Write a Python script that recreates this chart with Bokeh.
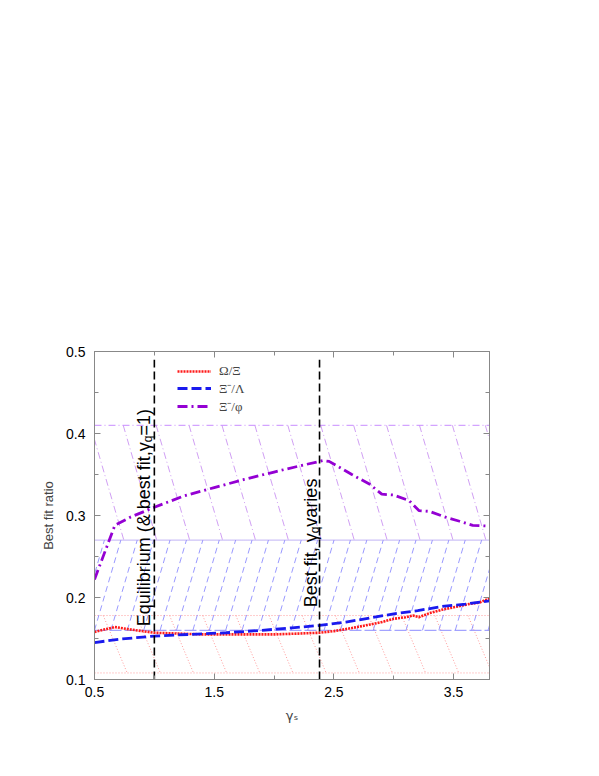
import numpy as np
from bokeh.plotting import figure
from bokeh.models import (Range1d, FixedTicker, LinearAxis, Legend, LegendItem,
                          Label, CustomJSTickFormatter)
from bokeh.embed import file_html
from bokeh.resources import INLINE

# ---------------- data ----------------
gamma_s_omega = [0.5, 0.67, 0.8, 1.0, 1.2, 1.4, 1.6, 1.8, 2.0, 2.2, 2.38, 2.5,
                 2.66, 2.8, 2.9, 3.0, 3.1, 3.16, 3.21, 3.3, 3.4, 3.5, 3.63, 3.72, 3.8]
ratio_omega_xi = [0.158, 0.164, 0.161, 0.157, 0.156, 0.155, 0.155, 0.155, 0.155, 0.156,
                  0.157, 0.159, 0.163, 0.167, 0.170, 0.174, 0.176, 0.178, 0.176, 0.181,
                  0.185, 0.188, 0.192, 0.194, 0.199]

gamma_s_lambda = [0.5, 0.7, 1.0, 1.3, 1.6, 1.9, 2.15, 2.38, 2.6, 2.8, 3.0, 3.2, 3.4, 3.6, 3.8]
ratio_xi_lambda = [0.145, 0.149, 0.153, 0.155, 0.157, 0.160, 0.163, 0.166, 0.170, 0.175,
                   0.180, 0.184, 0.189, 0.192, 0.196]

gamma_s_phi = [0.5, 0.67, 0.8, 1.0, 1.25, 1.5, 1.75, 2.0, 2.2, 2.41, 2.46, 2.65, 2.8, 2.9,
               3.0, 3.13, 3.21, 3.3, 3.43, 3.55, 3.66, 3.8]
ratio_xi_phi = [0.222, 0.288, 0.298, 0.310, 0.324, 0.334, 0.344, 0.353, 0.360, 0.367, 0.366,
                0.350, 0.338, 0.326, 0.325, 0.318, 0.306, 0.305, 0.298, 0.293, 0.288, 0.287]

# experimental ranges (bands)
omega_band = [0.108, 0.178]
lambda_band = [0.160, 0.270]
phi_band = [0.270, 0.410]

# vertical markers
marker_x = [1.0, 2.38]
marker_y = [0.1, 0.49]

x_ticks = [0.5, 1.5, 2.5, 3.5]
x_minor = [1.0, 2.0, 3.0]
y_ticks = [0.1, 0.2, 0.3, 0.4, 0.5]
y_minor = [0.15, 0.25, 0.35, 0.45]
x_lim = [0.5, 3.8]
y_lim = [0.1, 0.5]

labels = ["Ω/Ξ", "Ξ⁻/Λ", "Ξ⁻/φ"]

# ---------------- figure ----------------
AX = "#888888"
p = figure(width=583, height=760, output_backend="svg", toolbar_location=None,
           x_range=Range1d(*x_lim), y_range=Range1d(*y_lim),
           min_border_left=94, min_border_right=94, min_border_top=351,
           min_border_bottom=81)
p.background_fill_color = "white"
p.border_fill_color = "white"
p.outline_line_color = AX
p.grid.visible = False

for ax in (p.xaxis[0], p.yaxis[0]):
    ax.axis_line_color = AX
    ax.major_tick_line_color = AX
    ax.minor_tick_line_color = AX
    ax.major_tick_in = 6
    ax.major_tick_out = 0
    ax.minor_tick_in = 4
    ax.minor_tick_out = 0
    ax.major_label_text_font = "Liberation Sans"
    ax.major_label_text_font_size = "14px"
    ax.major_label_text_color = "black"
    ax.axis_label_text_font_style = "normal"

p.xaxis[0].ticker = FixedTicker(ticks=x_ticks, minor_ticks=x_minor)
p.yaxis[0].ticker = FixedTicker(ticks=y_ticks, minor_ticks=y_minor)
p.xaxis[0].major_label_standoff = 7
p.yaxis[0].major_label_standoff = 9
p.yaxis[0].axis_label = "Best fit ratio"
p.yaxis[0].axis_label_text_font = "Liberation Sans"
p.yaxis[0].axis_label_text_font_size = "13px"
p.yaxis[0].axis_label_standoff = 7
p.xaxis[0].axis_label = "γₛ"
p.xaxis[0].axis_label_text_font = "DejaVu Sans"
p.xaxis[0].axis_label_text_font_size = "13px"
p.xaxis[0].axis_label_standoff = 8

blank = CustomJSTickFormatter(code="return ''")
for loc, tk in (("right", FixedTicker(ticks=y_ticks, minor_ticks=y_minor)),
                ("above", FixedTicker(ticks=x_ticks, minor_ticks=x_minor))):
    a = LinearAxis(ticker=tk, formatter=blank, axis_line_color=AX,
                   major_tick_line_color=AX, minor_tick_line_color=AX,
                   major_tick_in=6, major_tick_out=0, minor_tick_in=4, minor_tick_out=0,
                   major_label_text_font_size="1px")
    p.add_layout(a, loc)

# ---------------- bands with hatching ----------------
def hatch(starts, y_from, y_to, dx):
    s = np.asarray(starts)
    return s, np.full(len(s), y_from), s + dx, np.full(len(s), y_to)

RED_L = "#ff8080"
BLUE_L = "#7f7fff"
PURP_L = "#c486f0"

# red band (Omega/Xi)
x0, y0, x1, y1 = hatch(np.arange(0.573 - 0.277, x_lim[1], 0.277), omega_band[1], omega_band[0], 0.2)
p.segment(x0, y0, x1, y1, line_color=RED_L, line_width=0.8, line_dash="1 2")
p.segment([x_lim[0]] * 2, omega_band, [x_lim[1]] * 2, omega_band,
          line_color="#ff9a9a", line_width=1, line_dash="1 2")

# blue band (Xi/Lambda)
x0, y0, x1, y1 = hatch(np.arange(0.5 - 0.137 * 2, x_lim[1], 0.137), lambda_band[0], lambda_band[1], 0.22)
p.segment(x0, y0, x1, y1, line_color=BLUE_L, line_width=0.8, line_dash="6 4")
p.segment([x_lim[0]], [lambda_band[0]], [x_lim[1]], [lambda_band[0]],
          line_color="#8c8cff", line_width=1, line_dash="12 3")

# purple band (Xi/phi)
x0, y0, x1, y1 = hatch(np.arange(2.39 - 0.275 * 8, x_lim[1], 0.275), phi_band[1], phi_band[0], 0.28)
p.segment(x0, y0, x1, y1, line_color=PURP_L, line_width=0.8, line_dash="7 3 1 3")
p.segment([x_lim[0]], [phi_band[1]], [x_lim[1]], [phi_band[1]],
          line_color="#c88cff", line_width=1, line_dash="7 3 1 3")
p.segment([x_lim[0]], [phi_band[0]], [x_lim[1]], [phi_band[0]],
          line_color="#9a84f0", line_width=1.2, line_dash="1 1")

# ---------------- curves ----------------
r_om = p.line(gamma_s_omega, ratio_omega_xi, line_color="#ff1a1a", line_width=2.6, line_dash="2 1")
r_la = p.line(gamma_s_lambda, ratio_xi_lambda, line_color="#1a1aee", line_width=2.8, line_dash="10 4")
r_ph = p.line(gamma_s_phi, ratio_xi_phi, line_color="#9400d3", line_width=2.8, line_dash="10 4 2 4")

# vertical markers
p.segment(marker_x, [marker_y[0]] * 2, marker_x, [marker_y[1]] * 2,
          line_color="black", line_width=1.6, line_dash="8 4")

# ---------------- annotations ----------------
FS = 18
def rot_label(x, y, parts):
    off = 0.0
    for txt, size, shift, w_em in parts:
        p.add_layout(Label(x=x, y=y, text=txt, angle=90, angle_units="deg",
                           x_offset=shift, y_offset=off, text_font="Liberation Sans",
                           text_font_size=f"{size}px", text_baseline="alphabetic",
                           text_align="left", text_color="black"))
        off += w_em * size

rot_label(0.917, 0.165, [("Equilibrium (& best fit,γ", FS, 0, 10.225),
                         ("q", 12, 4, 0.556),
                         ("=1)", FS, 0, 1.473)])
rot_label(2.305, 0.188, [("Best fit, γ", FS, 0, 4.113),
                         ("q", 12, 4, 0.556),
                         (" varies", FS, 0, 2.945)])

legend = Legend(items=[LegendItem(label=labels[0], renderers=[r_om]),
                       LegendItem(label=labels[1], renderers=[r_la]),
                       LegendItem(label=labels[2], renderers=[r_ph])],
                location=(83, 264), border_line_color=None, background_fill_alpha=0,
                label_text_font="Liberation Serif", label_text_font_size="13px",
                glyph_width=34, glyph_height=16, label_height=16, spacing=0,
                padding=0, margin=0, label_standoff=8)
p.add_layout(legend, "center")

open("out.html", "w").write(file_html(p, INLINE))
